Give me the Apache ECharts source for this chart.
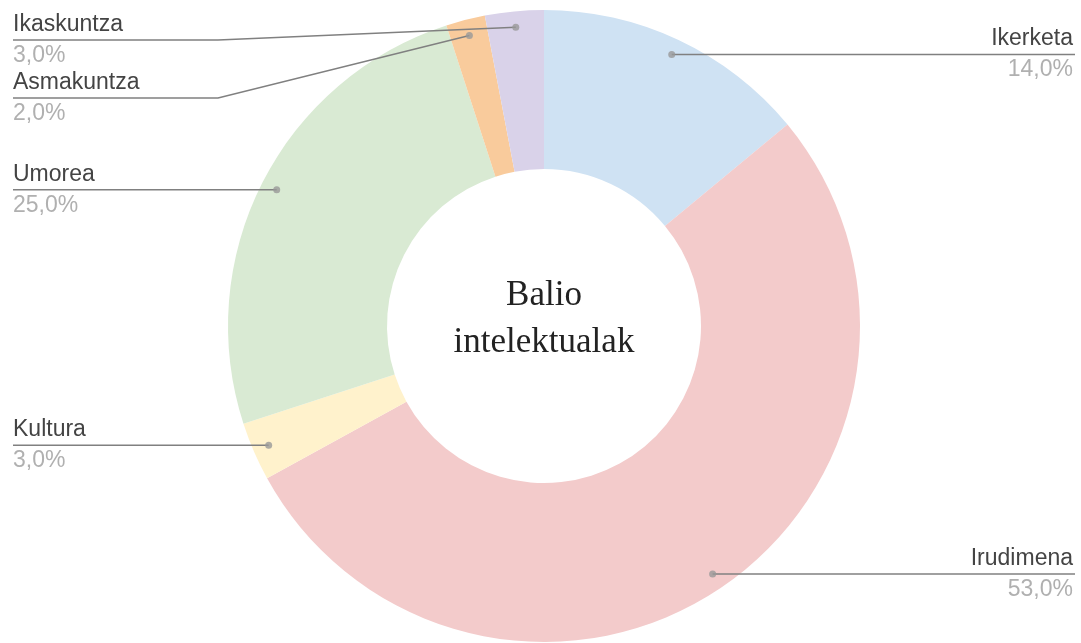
<!DOCTYPE html>
<html><head><meta charset="utf-8">
<script src="https://cdn.jsdelivr.net/npm/echarts@6.0.0/dist/echarts.min.js"></script>
<style>html,body{margin:0;padding:0;background:#fff}#c{width:1081px;height:643px}</style>
</head><body><div id="c"></div>
<script>
// ---- data ----
const categories = ['Ikerketa', 'Irudimena', 'Kultura', 'Umorea', 'Asmakuntza', 'Ikaskuntza'];
const values = [14, 53, 3, 25, 2, 3];
const colors = ['#cfe2f3', '#f3cbcb', '#fff2cc', '#d9ead3', '#f9cb9c', '#d9d2e9'];
const centerTitle = 'Balio\nintelektualak';

// ---- layout ----
const CX = 544, CY = 326, R_OUT = 316, R_IN = 157, R_DOT = 300;
const W = 1081;
const LABEL_MIN_Y = 40, LABEL_GAP = 58;

const chart = echarts.init(document.getElementById('c'), null, {renderer: 'canvas'});
const total = values.reduce((a, b) => a + b, 0);
const pieData = categories.map((n, i) => ({name: n, value: values[i], itemStyle: {color: colors[i]}}));
let cum = 0;
const mids = values.map(v => { const m = cum + v / 2; cum += v; return m; });
const dotData = mids.map(m => [R_DOT / R_OUT, m]);

// label line heights: start at the dot, push down when labels on one side collide
const labelY = new Array(values.length);
(function () {
  const info = mids.map((m, i) => {
    const a = m / total * Math.PI * 2;
    return {i: i, left: Math.sin(a) < 0, y: CY - R_DOT * Math.cos(a)};
  });
  [true, false].forEach(side => {
    const list = info.filter(d => d.left === side).sort((a, b) => a.y - b.y);
    let prev = -Infinity;
    list.forEach(d => {
      const y = Math.max(d.y, prev + LABEL_GAP, LABEL_MIN_Y);
      labelY[d.i] = y; prev = y;
    });
  });
})();

const fmtPct = p => p.toFixed(1).replace('.', ',') + '%';
const FONT = 'Liberation Sans, Arial, sans-serif';

chart.setOption({
  animation: false,
  backgroundColor: '#fff',
  polar: {center: [CX, CY], radius: R_OUT},
  angleAxis: {type: 'value', min: 0, max: total, startAngle: 90, clockwise: true, show: false},
  radiusAxis: {type: 'value', min: 0, max: 1, show: false},
  graphic: [{
    type: 'text',
    x: CX, y: CY - 7,
    style: {text: centerTitle, font: '35px "Liberation Serif", "DejaVu Serif", serif', fill: '#222',
            textAlign: 'center', textVerticalAlign: 'middle', lineHeight: 47}
  }],
  series: [
    {
      type: 'pie', center: [CX, CY], radius: [R_IN, R_OUT], startAngle: 90, clockwise: true,
      data: pieData, label: {show: false}, labelLine: {show: false}, silent: true,
      itemStyle: {borderWidth: 0}
    },
    {
      type: 'pie', center: [CX, CY], radius: [0, R_DOT], startAngle: 90, clockwise: true,
      data: categories.map((n, i) => ({name: n, value: values[i]})),
      itemStyle: {color: 'rgba(0,0,0,0)'}, silent: true, z: 3,
      label: {
        show: true, position: 'outer', alignTo: 'edge', edgeDistance: 10, minMargin: 0,
        formatter: p => '{n|' + p.name + '}\n{p|' + fmtPct(p.percent) + '}',
        rich: {
          n: {fontSize: 23, color: '#444', fontFamily: FONT, lineHeight: 31},
          p: {fontSize: 23, color: '#b0b0b0', fontFamily: FONT, lineHeight: 31}
        }
      },
      labelLine: {show: true, length: 1, length2: 10, maxSurfaceAngle: 180, lineStyle: {color: '#808080', width: 1.5}},
      labelLayout: function (p) {
        const isLeft = p.labelRect.x + p.labelRect.width / 2 < CX;
        const pts = p.labelLinePoints;
        const y = labelY[p.dataIndex];
        const endX = isLeft ? 13 : 1075;
        const bendX = isLeft ? 218 : W - 218;
        const x0 = pts[0][0], y0 = pts[0][1];
        const bx = isLeft ? Math.min(bendX, x0) : Math.max(bendX, x0);
        return {
          x: isLeft ? 13 : 1073, y: y, align: isLeft ? 'left' : 'right', verticalAlign: 'middle',
          labelLinePoints: [[x0, y0], [bx, y], [endX, y]]
        };
      }
    },
    {
      type: 'scatter', coordinateSystem: 'polar', data: dotData, symbol: 'circle', symbolSize: 7,
      itemStyle: {color: '#999'}, silent: true, z: 5
    }
  ]
});
</script>
</body></html>
